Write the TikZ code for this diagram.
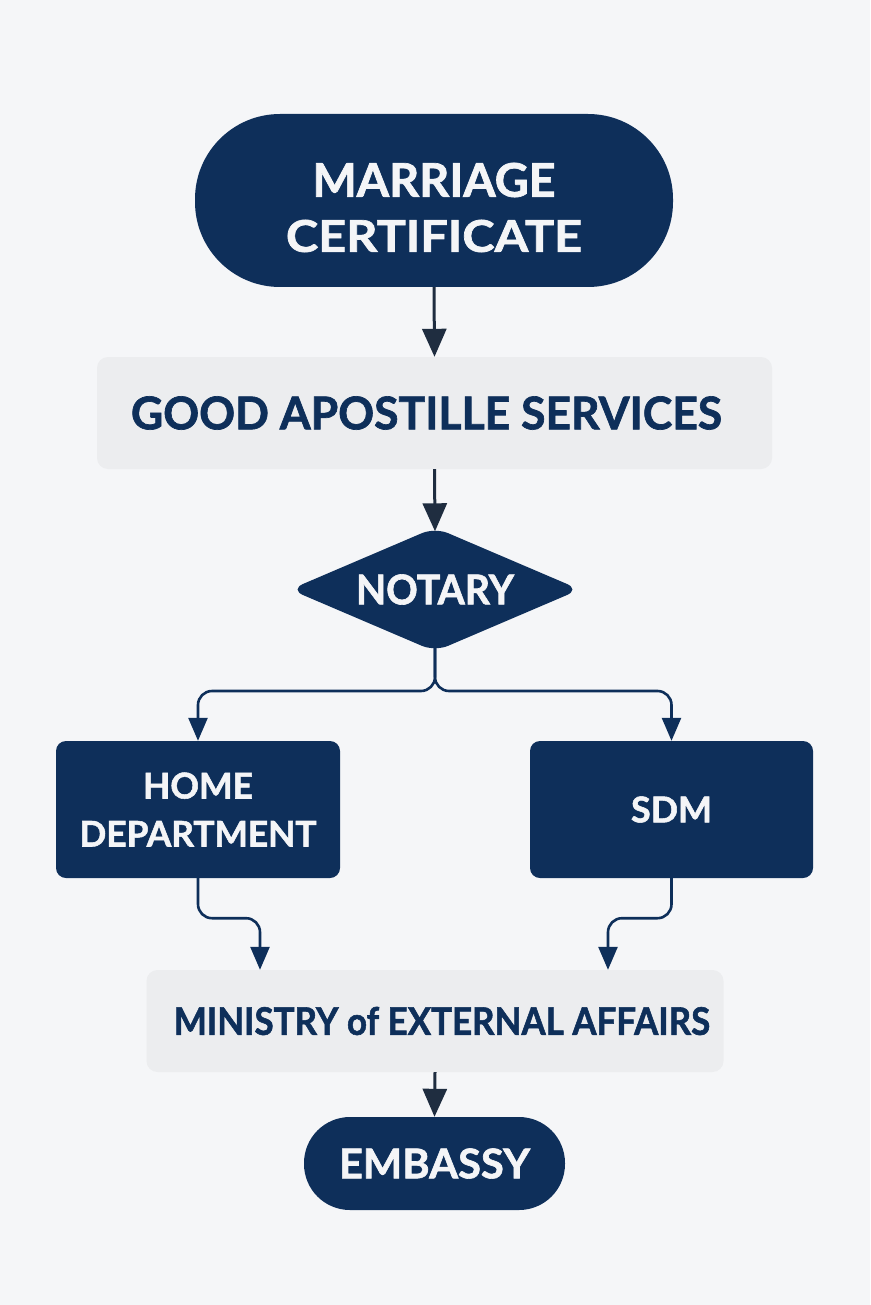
\documentclass[tikz,border=0pt]{standalone}
\usepackage{fontspec}
\setmainfont{Lato}[BoldFeatures={FakeBold=1.5}]
\usetikzlibrary{arrows.meta,shapes.geometric,calc}
\definecolor{navy}{HTML}{0E2F5A}
\definecolor{boxgray}{HTML}{ECEDEF}
\definecolor{bgcol}{HTML}{F5F6F8}
\definecolor{arrowdark}{HTML}{1F2D40}
\definecolor{offwhite}{HTML}{F4F5F7}
\newcommand{\fitt}[3]{\resizebox{#1pt}{#2pt}{\bfseries #3}}
\tikzset{
  darkbox/.style={fill=navy, text=offwhite, inner sep=0pt, align=center},
  graybox/.style={fill=boxgray, text=navy, inner sep=0pt, align=center, rounded corners=11pt},
  bigarrow/.style={draw=arrowdark, line width=3pt, -{Triangle[width=24pt,length=28pt]}},
  branch/.style={draw=navy, line width=2.6pt, rounded corners=14pt, -{Triangle[width=19pt,length=23pt]}}
}
\begin{document}
\begin{tikzpicture}[x=1pt,y=1pt]
\fill[bgcol] (0,0) rectangle (870,-1305);
\useasboundingbox (0,0) rectangle (870,-1305);

\node[darkbox, minimum width=478pt, minimum height=173pt, rounded corners=85pt,
      font={\fontsize{40}{55}\selectfont}] (mc) at (434,-200.5)
  {\rule{0pt}{48pt}\fitt{243}{34}{MARRIAGE}\\\fitt{296}{32}{CERTIFICATE}};

\node[graybox, minimum width=675pt, minimum height=112pt] (gas) at (434.5,-413)
  {\fitt{591}{33}{GOOD APOSTILLE SERVICES}\hspace*{16pt}};

\node[darkbox, diamond, aspect=2.3, minimum width=290pt, minimum height=124pt,
      rounded corners=14pt] (notary) at (435,-589.5)
  {\fitt{158}{30}{NOTARY}};

\node[darkbox, minimum width=284pt, minimum height=137pt, rounded corners=10pt,
      font={\fontsize{30}{48}\selectfont}] (home) at (198,-809.5)
  {\fitt{110}{26}{HOME}\\\fitt{237}{25.5}{DEPARTMENT}};

\node[darkbox, minimum width=283pt, minimum height=137pt, rounded corners=10pt] (sdm) at (671.5,-809.5)
  {\fitt{81}{26}{SDM}};

\node[graybox, minimum width=577pt, minimum height=102pt] (min) at (435,-1021)
  {\hspace*{14pt}\fitt{536}{28}{MINISTRY of EXTERNAL AFFAIRS}};

\node[darkbox, minimum width=261pt, minimum height=93pt, rounded corners=46pt] (emb) at (434.5,-1163.5)
  {\fitt{191}{30}{EMBASSY}};

\coordinate (split) at (435,-691);
\coordinate (hmin) at ([xshift=-175pt]min.north);
\coordinate (smin) at ([xshift=173pt]min.north);

\draw[bigarrow] (mc.south) -- (gas.north);
\draw[bigarrow] (gas.south) -- ([yshift=-4pt]notary.north);
\draw[branch] ([yshift=4pt]notary.south) |- (home.north |- split) -- (home.north);
\draw[branch] ([yshift=4pt]notary.south) |- (sdm.north |- split) -- (sdm.north);
\draw[branch] (home.south) -- ++(0,-40) -| (hmin);
\draw[branch] (sdm.south) -- ++(0,-40) -| (smin);
\draw[bigarrow] (min.south) -- (emb.north);
\end{tikzpicture}
\end{document}
